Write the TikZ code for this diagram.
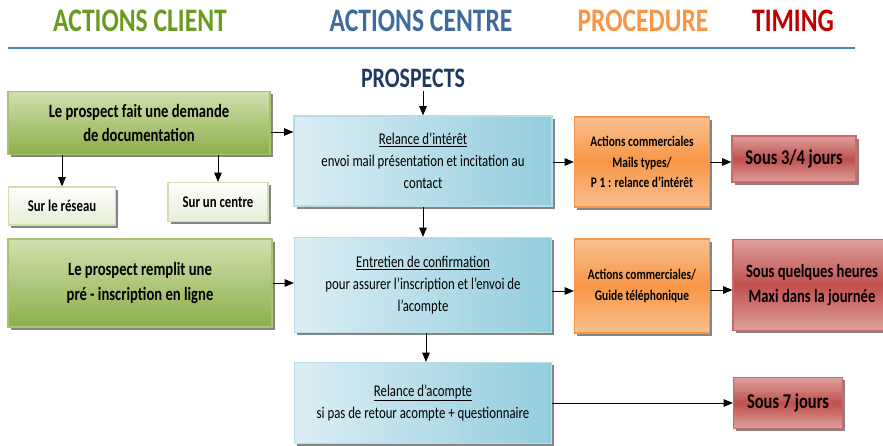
\documentclass[tikz,border=0pt]{standalone}
\usepackage{fontspec}
\setmainfont[FakeStretch=0.78]{Carlito}
\usetikzlibrary{shadows,arrows}

\definecolor{clientgreen}{HTML}{6A9A1F}
\definecolor{centreblue}{HTML}{3F6A9C}
\definecolor{procorange}{HTML}{F79646}
\definecolor{timingred}{HTML}{C00000}
\definecolor{prospnavy}{HTML}{1F3864}
\definecolor{ruleblue}{HTML}{4F81BD}
% box fills
\definecolor{greenlight}{HTML}{D0E0AE}
\definecolor{greendark}{HTML}{8DAF4A}
\definecolor{greenline}{HTML}{A8C370}
\definecolor{palegreen}{HTML}{E6EED5}
\definecolor{bluelight}{HTML}{DCEEF4}
\definecolor{bluedark}{HTML}{93CDDD}
\definecolor{blueline}{HTML}{B6DDE8}
\definecolor{orangelight}{HTML}{FAC090}
\definecolor{redlight}{HTML}{DDA09E}
\definecolor{reddark}{HTML}{C0504D}

\begin{document}
\begin{tikzpicture}
	[x=0.03cm,y=-0.03cm,>=triangle 45,
	title/.style={font=\bfseries\fontsize{28}{30}\selectfont},
	box/.style={inner sep=0pt,align=center,
		drop shadow={shadow xshift=2.5pt,shadow yshift=-2.5pt,fill=black!60,opacity=0.8}},
	client/.style={box,draw=greenline,line width=1.2pt,
		top color=greenlight,bottom color=greendark,
		font=\bfseries\fontsize{16}{21}\selectfont},
	channel/.style={box,draw=greenlight,line width=1.2pt,
		top color=white,bottom color=palegreen,
		font=\bfseries\fontsize{14}{17}\selectfont},
	centre/.style={box,draw=blueline,line width=1.2pt,
		left color=bluelight,right color=bluedark,
		font=\fontsize{14}{19}\selectfont},
	proc/.style={box,draw=procorange,line width=1.2pt,
		top color=orangelight,bottom color=orangelight,middle color=procorange,
		font=\bfseries\fontsize{12.5}{17.5}\selectfont},
	delay/.style={box,draw=reddark!85,line width=1.2pt,
		top color=redlight,bottom color=redlight,middle color=reddark,
		font=\bfseries\fontsize{18}{21}\selectfont},
	flow/.style={->,thick,black}]

	\useasboundingbox (0,0) rectangle (883,446);

	% column titles
	\node[title,text=clientgreen] (tclient) at (140,21) {ACTIONS CLIENT};
	\node[title,text=centreblue] (tcentre) at (421,21) {ACTIONS CENTRE};
	\node[title,text=procorange] (tproc) at (643,21) {PROCEDURE};
	\node[title,text=timingred] (ttiming) at (793,21) {TIMING};
	\coordinate (rulel) at (8,48);
	\coordinate (ruler) at (855,48);
	\draw[ruleblue,line width=1.2pt] (rulel) -- (ruler);

	\node[font=\bfseries\fontsize{24}{26}\selectfont,text=prospnavy] (prospects) at (413,78) {PROSPECTS};

	% client side
	\node[client,minimum width=7.86cm,minimum height=1.89cm] (demande) at (139,123)
		{Le prospect fait une demande\\de documentation};
	\node[channel,minimum width=3.21cm,minimum height=1.14cm] (reseau) at (62,206) {Sur le réseau};
	\node[channel,minimum width=3.0cm,minimum height=1.17cm] (surcentre) at (218,202) {Sur un centre};
	\node[client,minimum width=7.92cm,minimum height=2.64cm] (preinscr) at (140,283)
		{Le prospect remplit une\\pré - inscription en ligne};

	% centre side
	\node[centre,minimum width=7.74cm,minimum height=2.7cm] (relance) at (423,161)
		{\underline{Relance d’intérêt}\\envoi mail présentation et incitation au\\contact};
	\node[centre,minimum width=7.71cm,minimum height=2.85cm] (entretien) at (423,285)
		{\underline{Entretien de confirmation}\\pour assurer l’inscription et l’envoi de\\l’acompte};
	\node[centre,minimum width=7.71cm,minimum height=2.43cm] (acompte) at (423,403)
		{\underline{Relance d’acompte}\\si pas de retour acompte + questionnaire};

	% procedure
	\node[proc,minimum width=4.05cm,minimum height=2.7cm] (mails) at (642,162)
		{Actions commerciales\\Mails types/\\P 1 : relance d’intérêt};
	\node[proc,minimum width=4.05cm,minimum height=2.82cm] (guide) at (642,286)
		{Actions commerciales/\\Guide téléphonique};

	% timing
	\node[delay,minimum width=3.72cm,minimum height=1.38cm] (jours34) at (794,159) {Sous 3/4 jours};
	\node[delay,minimum width=4.74cm,minimum height=2.73cm,
		font=\bfseries\fontsize{16}{20.5}\selectfont] (heures) at (812,285)
		{Sous quelques heures\\Maxi dans la journée};
	\node[delay,minimum width=3.27cm,minimum height=1.53cm] (jours7) at (788,403) {Sous 7 jours};

	% arrows
	\draw[flow] (relance.north |- prospects.south) -- (relance.north);
	\draw[flow] (demande.south -| reseau.north) -- (reseau.north);
	\draw[flow] (demande.south -| surcentre.north) -- (surcentre.north);
	\draw[flow] (demande.east |- 0,132) -- (relance.west |- 0,132);
	\draw[flow] (relance.east |- mails.west) -- (mails.west);
	\draw[flow] (mails.east |- 0,162) -- (jours34.west |- 0,162);
	\draw[flow] (relance.south) -- (entretien.north);
	\draw[flow] (preinscr.east) -- (entretien.west |- preinscr.east);
	\draw[flow] (entretien.east |- 0,291) -- (guide.west |- 0,291);
	\draw[flow] (guide.east |- 0,290) -- (heures.west |- 0,290);
	\draw[flow] (entretien.south -| 426,0) -- (acompte.north -| 426,0);
	\draw[flow] (acompte.east) -- (jours7.west);
\end{tikzpicture}
\end{document}
